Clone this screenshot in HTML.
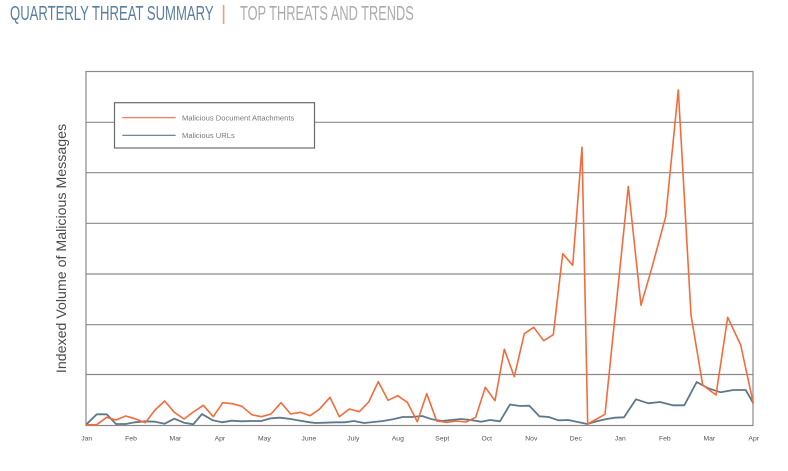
<!DOCTYPE html>
<html><head><meta charset="utf-8"><style>
html,body{margin:0;padding:0;background:#fff;}
body{width:788px;height:471px;overflow:hidden;position:relative;}
.t{position:absolute;top:3px;font-family:"Liberation Sans",sans-serif;font-size:20px;white-space:nowrap;transform-origin:0 0;transform:scaleX(0.655);}
</style></head><body>
<div class="t" style="left:10px;color:#5a7ea2">QUARTERLY THREAT SUMMARY</div>
<div class="t" style="left:221px;color:#e8a27a;transform:none">|</div>
<div class="t" style="left:240px;color:#acacac;transform:scaleX(0.64)">TOP THREATS AND TRENDS</div>
<svg width="788" height="471" style="position:absolute;left:0;top:0" xmlns="http://www.w3.org/2000/svg">
<g stroke="#8a8a8a" stroke-width="1.2" fill="none">
<line x1="86" y1="122.3" x2="753" y2="122.3"/>
<line x1="86" y1="172.7" x2="753" y2="172.7"/>
<line x1="86" y1="223.3" x2="753" y2="223.3"/>
<line x1="86" y1="274" x2="753" y2="274"/>
<line x1="86" y1="324.7" x2="753" y2="324.7"/>
<line x1="86" y1="374.5" x2="753" y2="374.5"/>
<rect x="86" y="71.5" width="667" height="354"/>
</g>
<polyline fill="none" stroke="#5d7888" stroke-width="1.8" stroke-linejoin="round" points="86,424.7 96.7,414.3 106.7,414.3 116,424 125.7,424 135,422.3 145.3,421.3 155,421.7 164.7,423.7 174.3,418.7 184,422.7 193.3,424.3 202,414 212.7,420.3 222,422.3 231.7,420.7 241.7,421.3 251.7,421 261.3,421 271,418.3 280,417.7 290.7,419 300.3,420.7 310,422.3 315.7,423 325,422.7 335,422.3 344.7,422.3 354,421 364,423 373.7,422 383,421 393,419.3 402.7,417 412,417 422,416 432,419.3 441.7,421 451,420 461,419 470.7,420 481,421.7 490,420 500,421.3 510,404.5 520,406 529.3,405.7 539.3,416.3 548.7,417 558.3,420.3 568.3,420 577.7,422 587.3,424 596.7,421.3 606.7,419 615,417.7 624,417.3 636,399.3 648.3,403.3 660,402 672.7,405.3 684.3,405.3 696.7,382 708.3,388.3 720.7,392.3 733.3,390 745.7,390 753.3,403.3"/>
<polyline fill="none" stroke="#f26c3d" stroke-width="1.6" stroke-linejoin="round" points="86,424.7 96.7,424.7 106.7,417.3 116,420 125.7,416 135,418.7 145.3,422.7 155,410 164.7,401 174.3,412.3 184,419 193.3,412 203.3,405.3 213.3,416.7 222.7,402.7 232.3,403.7 242,406.3 251.7,414.7 261.3,416.7 271,414 281,402.7 290.7,414 300.3,412.3 310,415.7 319.3,409.3 330,397.3 339.3,416.7 349.3,409 359.3,411.7 368.7,402 378.3,381.7 388,400.3 397.7,395.7 407.3,402.3 417.3,421.7 426.7,393.7 436.7,421 446.7,422.3 456.7,421 466,422 475.7,417.3 485.3,387.3 495,400.7 504.3,349.3 514.3,376.7 524.3,333.7 533.7,327.3 543.7,340.7 553.3,334.7 562.7,253.7 572.7,265.3 582,147.3 587.7,424 605,414.3 628.3,186.5 641,305.3 651.7,268.3 665.7,216.7 678.3,90 691,315 702.7,385 716,395 727.7,317.3 740.7,345 753.3,403.3"/>
<rect x="114.5" y="102.7" width="200" height="45.3" fill="#fff" stroke="#6a6a6a" stroke-width="1.2"/>
<line x1="122.3" y1="117.7" x2="175.7" y2="117.7" stroke="#f26c3d" stroke-width="1.2"/>
<line x1="122.3" y1="135.3" x2="175.7" y2="135.3" stroke="#5d7888" stroke-width="1.2"/>
<g font-family="Liberation Sans, sans-serif" font-size="7.6" fill="#7a7a7a">
<text x="182" y="120.5">Malicious Document Attachments</text>
<text x="182" y="138">Malicious URLs</text>
</g>
<text transform="translate(66,248.5) rotate(-90)" text-anchor="middle" font-family="Liberation Sans, sans-serif" font-size="14.2" fill="#4a4a4a">Indexed Volume of Malicious Messages</text>
<g font-family="Liberation Sans, sans-serif" font-size="6.8" fill="#555" text-anchor="middle">
<text x="86.7" y="440.5">Jan</text>
<text x="131" y="440.5">Feb</text>
<text x="175.4" y="440.5">Mar</text>
<text x="219.9" y="440.5">Apr</text>
<text x="264.4" y="440.5">May</text>
<text x="308.8" y="440.5">June</text>
<text x="353.3" y="440.5">July</text>
<text x="397.8" y="440.5">Aug</text>
<text x="442.3" y="440.5">Sept</text>
<text x="486.8" y="440.5">Oct</text>
<text x="531.3" y="440.5">Nov</text>
<text x="575.8" y="440.5">Dec</text>
<text x="620.3" y="440.5">Jan</text>
<text x="664.8" y="440.5">Feb</text>
<text x="709.3" y="440.5">Mar</text>
<text x="753.7" y="440.5">Apr</text>
</g>
</svg>
</body></html>
